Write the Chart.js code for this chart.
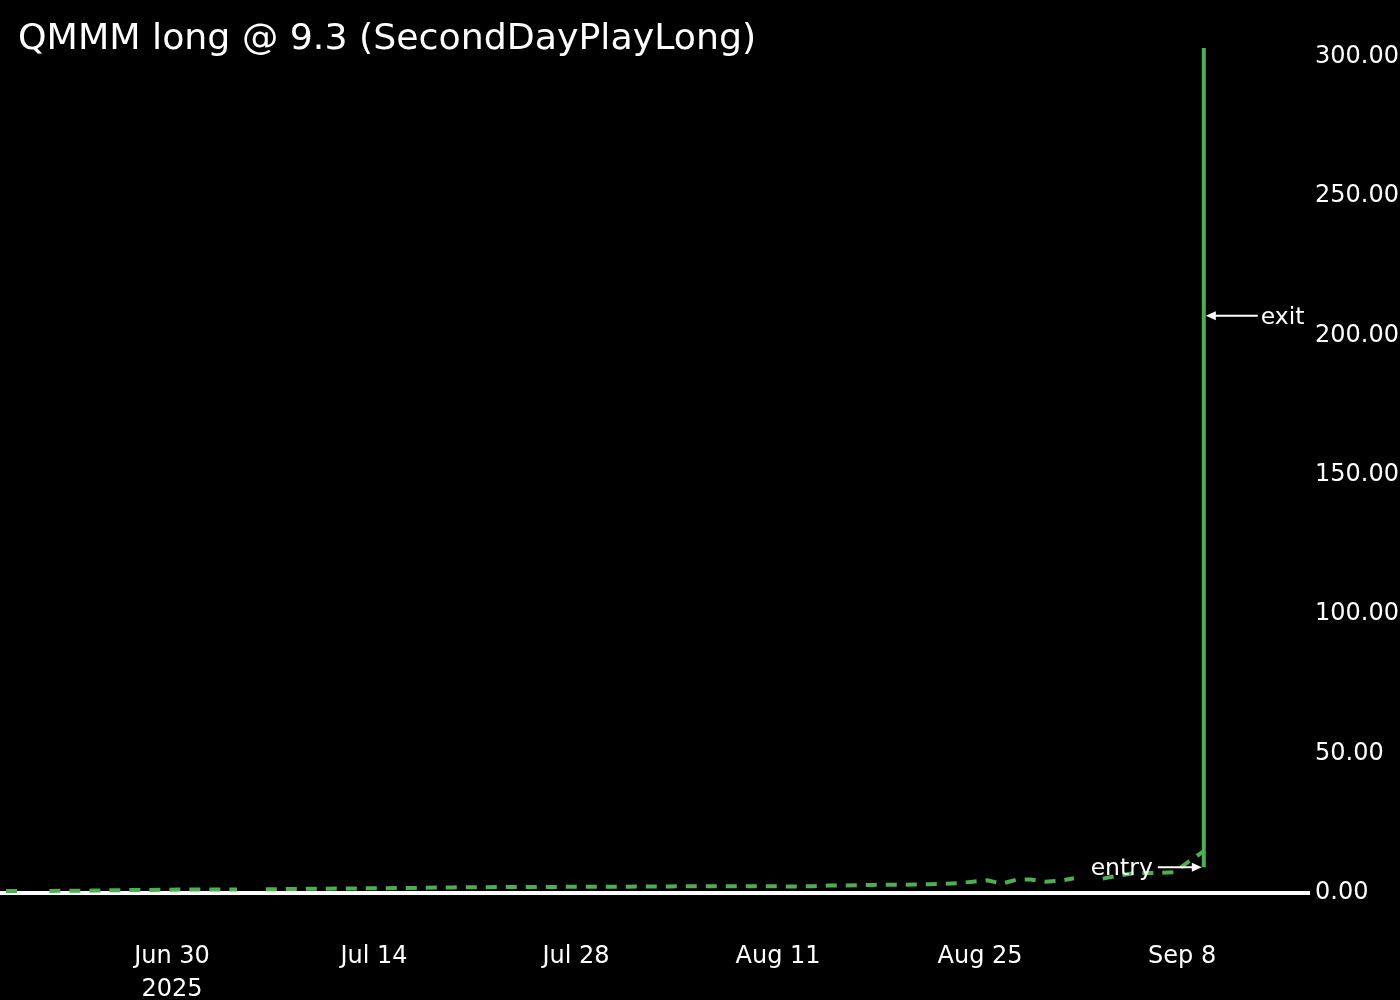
<!DOCTYPE html>
<html><head><meta charset="utf-8">
<script src="https://cdn.jsdelivr.net/npm/chart.js@4.4.1/dist/chart.umd.min.js"></script>
<style>html,body{margin:0;padding:0;background:#000;} #wrap{width:1400px;height:1000px;}</style>
</head><body><div id="wrap"><canvas id="c" width="1400" height="1000"></canvas></div>
<script>
const chartTitle = 'QMMM long @ 9.3 (SecondDayPlayLong)';
const dates = [
 '2025-06-18','2025-06-19','2025-06-20','2025-06-21','2025-06-22','2025-06-23','2025-06-24','2025-06-25','2025-06-26','2025-06-27','2025-06-28','2025-06-29','2025-06-30',
 '2025-07-01','2025-07-02','2025-07-03','2025-07-04','2025-07-05','2025-07-06','2025-07-07','2025-07-08','2025-07-09','2025-07-10','2025-07-11','2025-07-12','2025-07-13','2025-07-14','2025-07-15','2025-07-16',
 '2025-07-17','2025-07-18','2025-07-19','2025-07-20','2025-07-21','2025-07-22','2025-07-23','2025-07-24','2025-07-25','2025-07-26','2025-07-27','2025-07-28','2025-07-29','2025-07-30','2025-07-31',
 '2025-08-01','2025-08-02','2025-08-03','2025-08-04','2025-08-05','2025-08-06','2025-08-07','2025-08-08','2025-08-09','2025-08-10','2025-08-11','2025-08-12','2025-08-13','2025-08-14','2025-08-15','2025-08-16',
 '2025-08-17','2025-08-18','2025-08-19','2025-08-20','2025-08-21','2025-08-22','2025-08-23','2025-08-24','2025-08-25','2025-08-26','2025-08-27','2025-08-28','2025-08-29','2025-08-30','2025-08-31',
 '2025-09-01','2025-09-02','2025-09-03','2025-09-04','2025-09-05','2025-09-06','2025-09-07','2025-09-08','2025-09-09'
];
const prices = [
 0.8,0.8,null,0.8,0.85,0.85,0.9,1.0,1.05,1.1,1.1,1.2,1.25,
 1.25,1.3,1.3,1.3,null,1.35,1.45,1.5,1.55,1.6,1.65,1.65,1.7,1.75,1.8,1.85,
 1.9,2.0,2.05,2.1,2.1,2.15,2.15,2.15,2.2,2.2,2.25,2.25,2.25,2.3,2.3,
 2.35,2.4,2.4,2.5,2.5,2.5,2.5,2.5,2.5,2.45,2.4,2.4,2.5,2.7,2.75,2.8,
 2.95,3.0,3.0,3.1,3.2,3.3,3.6,4.1,4.6,3.4,4.8,4.9,4.1,4.4,5.3,
 null,5.2,6.2,7.0,7.2,7.3,7.5,11.5,15.0
];
const tradeDates = ['2025-09-09','2025-09-09','2025-09-09'];
const tradePrices = [9.3, 303, 207];
const entryPrice = 9.3;
const exitPrice = 207;
const yTicks = [0, 50, 100, 150, 200, 250, 300];
const xTickDates = ['2025-06-30','2025-07-14','2025-07-28','2025-08-11','2025-08-25','2025-09-08'];
const xTickLabels = [['Jun 30','2025'],'Jul 14','Jul 28','Aug 11','Aug 25','Sep 8'];

const DAY = 86400000;
const dayNum = s => Date.parse(s + 'T00:00:00Z') / DAY;
const noon = s => dayNum(s) + 0.5;
const x0 = dayNum('2025-06-30');
const GREEN = '#4caf50';
const FONT = '"DejaVu Sans", Verdana, sans-serif';

Chart.defaults.font.family = FONT;
Chart.defaults.font.size = 24;
Chart.defaults.color = '#ffffff';

const bgPlugin = {
  id: 'bg',
  beforeDraw(chart) {
    const c = chart.ctx; c.save(); c.fillStyle = '#000'; c.fillRect(0, 0, chart.width, chart.height); c.restore();
  }
};
function arrow(c, x1, y, x2) {
  const dir = Math.sign(x2 - x1);
  c.beginPath(); c.moveTo(x1, y); c.lineTo(x2 - dir * 8, y); c.stroke();
  c.beginPath(); c.moveTo(x2, y); c.lineTo(x2 - dir * 10, y - 4.5); c.lineTo(x2 - dir * 10, y + 4.5); c.closePath(); c.fill();
}
const annotPlugin = {
  id: 'annot',
  afterDatasetsDraw(chart) {
    const c = chart.ctx, xs = chart.scales.x, ys = chart.scales.y;
    const xp = xs.getPixelForValue(noon(tradeDates[0]));
    const ye = ys.getPixelForValue(entryPrice), yx = ys.getPixelForValue(exitPrice);
    c.save();
    c.strokeStyle = '#fff'; c.fillStyle = '#fff'; c.lineWidth = 2;
    arrow(c, xp - 46, ye, xp - 2);
    arrow(c, xp + 54, yx, xp + 2);
    c.font = '23.5px ' + FONT; c.textBaseline = 'alphabetic';
    c.textAlign = 'right'; c.fillText('entry', xp - 51, ye + 8);
    c.textAlign = 'left'; c.fillText('exit', xp + 57, yx + 8);
    c.font = '36.3px ' + FONT;
    c.fillText(chartTitle, 18, 49);
    c.restore();
  }
};

new Chart(document.getElementById('c'), {
  type: 'line',
  data: {
    datasets: [
      {
        label: 'price',
        data: dates.map((d, i) => ({ x: noon(d), y: prices[i] })),
        borderColor: GREEN, borderWidth: 4, borderDash: [11, 9],
        pointRadius: 0, tension: 0, spanGaps: false, fill: false
      },
      {
        label: 'trade',
        data: tradeDates.map((d, i) => ({ x: noon(d), y: tradePrices[i] })),
        borderColor: GREEN, borderWidth: 4,
        pointRadius: 0, tension: 0, fill: false
      }
    ]
  },
  options: {
    responsive: false, animation: false,
    layout: { padding: { top: 39.7, left: 0, right: 0, bottom: 0 } },
    plugins: { legend: { display: false }, tooltip: { enabled: false }, title: { display: false } },
    scales: {
      x: {
        type: 'linear', position: 'bottom',
        min: x0 - 11.92, max: x0 + 78.86,
        grid: { display: false, drawTicks: false }, border: { display: false },
        afterBuildTicks(s) { s.ticks = xTickDates.map(d => ({ value: dayNum(d) })); },
        afterFit(s) { s.height = 79; },
        ticks: { autoSkip: false, maxRotation: 0, padding: 19, font: { size: 24, lineHeight: 1.375 },
          callback: (v, i) => xTickLabels[i] }
      },
      y: {
        type: 'linear', position: 'right',
        min: -10, max: 306,
        grid: { drawTicks: false, lineWidth: 4, color: ctx => (ctx.tick && ctx.tick.value === 0) ? '#ffffff' : 'rgba(0,0,0,0)' },
        border: { display: false },
        afterBuildTicks(s) { s.ticks = yTicks.map(v => ({ value: v })); },
        afterFit(s) { s.width = 90; },
        ticks: { padding: 5, font: { size: 24 }, callback: v => Number(v).toFixed(2) }
      }
    }
  },
  plugins: [bgPlugin, annotPlugin]
});
</script></body></html>
